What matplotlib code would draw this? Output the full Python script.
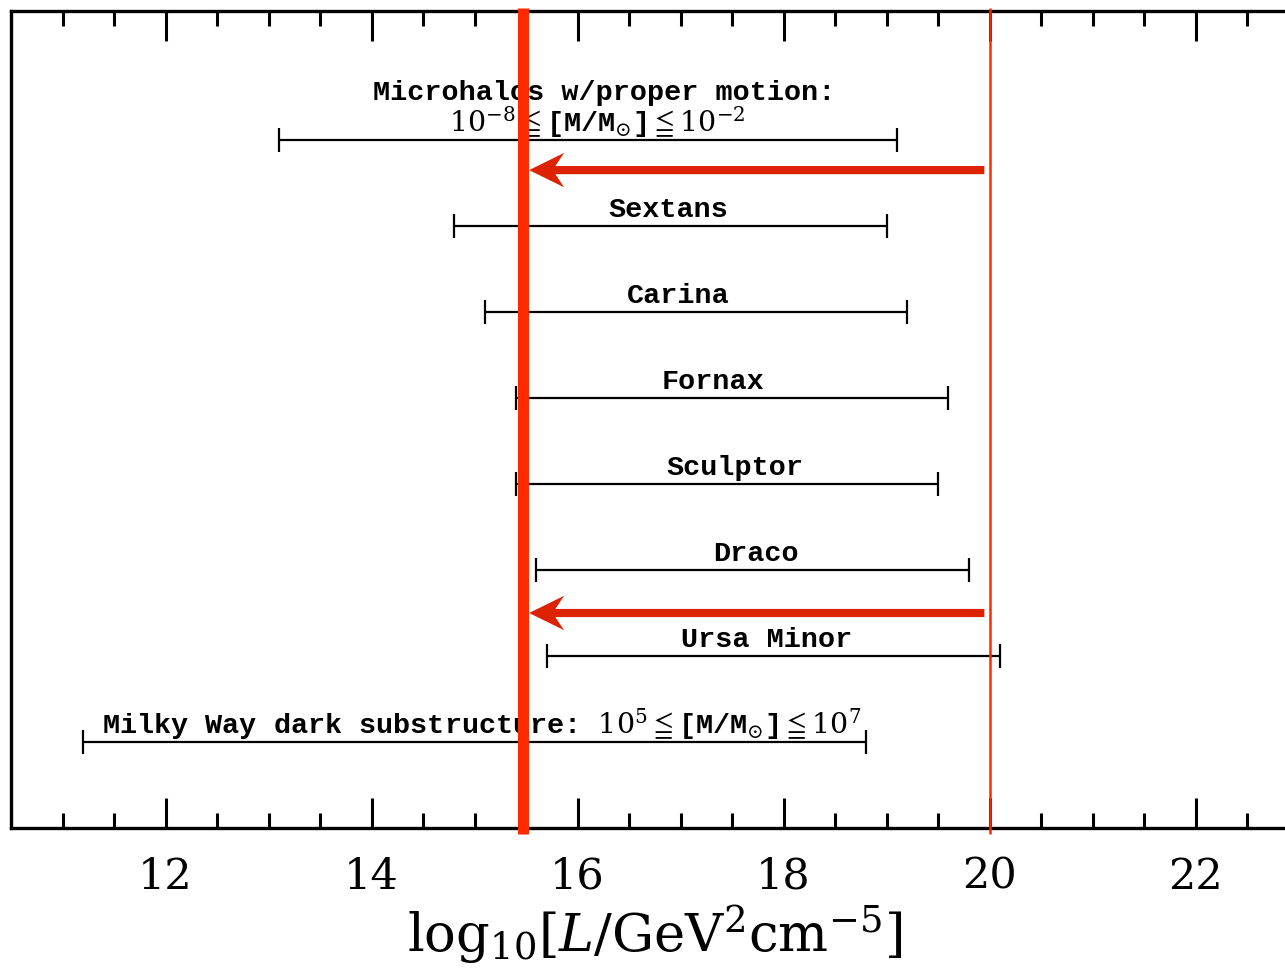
import numpy as np
import matplotlib
matplotlib.use("Agg")
import matplotlib.pyplot as plt
from matplotlib.ticker import MultipleLocator

plt.rcParams['font.family'] = ['DejaVu Serif', 'DejaVu Sans']
plt.rcParams['mathtext.fontset'] = 'dejavuserif'

# J-factor ranges, log10[L / GeV^2 cm^-5]
targets = ["Microhalos w/proper motion:", "Sextans", "Carina", "Fornax",
           "Sculptor", "Draco", "Ursa Minor",
           r"Milky Way dark substructure: $10^5\leqq$[M/M$_{\odot}$]$\leqq10^7$"]
j_low = [13.1, 14.8, 15.1, 15.4, 15.4, 15.6, 15.7, 11.2]
j_high = [19.1, 19.0, 19.2, 19.6, 19.5, 19.8, 20.1, 18.8]
row = [8, 7, 6, 5, 4, 3, 2, 1]
micro_mass = r"$10^{-8}\leqq$[M/M$_{\odot}$]$\leqq10^{-2}$"

# sensitivity limits
limit_thick = 15.47
limit_thin = 20.0
arrow_rows = [7.65, 2.5]

# label centres (slightly off the bar midpoints)
label_x = [16.26, 16.88, 16.98, 17.32, 17.53, 17.73, 17.84, 15.07]
micro_mass_x = 16.19

label_font = dict(family=['Liberation Mono', 'DejaVu Sans'], weight='bold',
                  fontsize=20.5)

fig = plt.figure(figsize=(12.85, 9.8), dpi=100)
ax = fig.add_axes([11 / 1285, 152 / 980, 1287.5 / 1285, 817 / 980])
ax.set_xlim(10.5, 23.0)
ax.set_ylim(0, 9.5)

lo = np.array(j_low)
hi = np.array(j_high)
ax.errorbar((lo + hi) / 2, row, xerr=(hi - lo) / 2, fmt='none', ecolor='k',
            elinewidth=1.6, capsize=8.6, capthick=1.6)

for name, x, y in zip(targets, label_x, row):
    # first label sits on two lines, so lift its title
    dy = 0.46 if y == row[0] else 0.1
    ax.text(x, y + dy, name, ha='center', va='baseline', **label_font)
ax.text(micro_mass_x, row[0] + 0.1, micro_mass, ha='center', va='baseline',
        **label_font)

# limit lines
ax.plot([limit_thick, limit_thick], [-0.07, 9.54], color='#ff2a00', lw=8,
        clip_on=False, solid_capstyle='butt', zorder=3)
ax.plot([limit_thin, limit_thin], [-0.07, 9.54], color='#ff2a00', lw=1.8,
        clip_on=False, solid_capstyle='butt', zorder=3)

for y in arrow_rows:
    ax.arrow(19.95, y, limit_thick + 0.06 - 19.95, 0, width=0.095,
             head_width=0.40, head_length=0.34, overhang=0.25,
             length_includes_head=True, color='#dd2200', lw=0, zorder=4)

ax.set_xticks(np.arange(12, 23, 2))
ax.xaxis.set_minor_locator(MultipleLocator(0.5))
ax.set_yticks([])
ax.tick_params(which='both', direction='in', top=True, bottom=True,
               width=2.2, labelsize=31, pad=20)
ax.tick_params(which='major', length=21.6)
ax.tick_params(which='minor', length=10.8)
for s in ax.spines.values():
    s.set_linewidth(2.4)

ax.set_xlabel(r'$\mathrm{log}_{10}[L/\mathrm{GeV}^2\mathrm{cm}^{-5}]$',
              fontsize=38, labelpad=4)

fig.savefig("out.png", dpi=100, facecolor='white')
